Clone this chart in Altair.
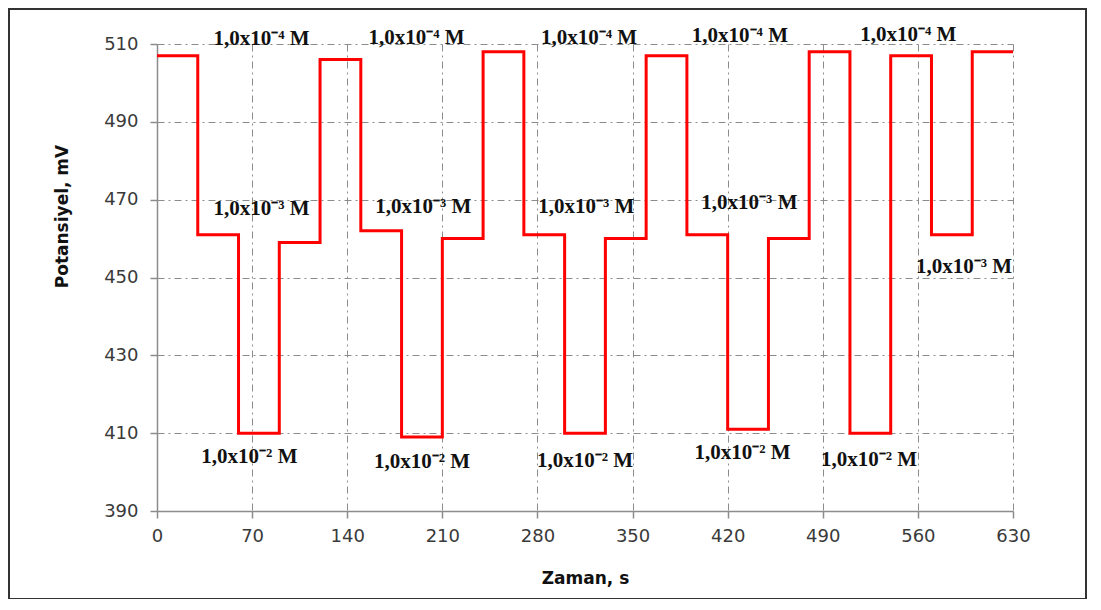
import altair as alt
import pandas as pd

# Step levels (mV), each held for 30 s
levels = [507, 461, 410, 459, 506, 462, 409, 460, 508, 461, 410,
          460, 507, 461, 411, 460, 508, 410, 507, 461, 508]
step_seconds = 30

x_ticks = [0, 70, 140, 210, 280, 350, 420, 490, 560, 630]
y_ticks = [390, 410, 430, 450, 470, 490, 510]

label_text = ["1,0x10⁻⁴ M"] * 5 + ["1,0x10⁻³ M"] * 5 + ["1,0x10⁻² M"] * 5
label_x = [77, 191, 318, 429, 553,
           77, 196, 316, 436, 594,
           68, 195, 315, 431, 524]
label_y = [511.3, 511.5, 511.5, 512.1, 512.3,
           467.6, 468.1, 468.1, 469.1, 452.7,
           403.8, 402.5, 402.8, 404.9, 403.1]

rows = []
k = 0
for i, lv in enumerate(levels):
    rows.append({"t": i * step_seconds, "v": lv, "o": k}); k += 1
    rows.append({"t": (i + 1) * step_seconds, "v": lv, "o": k}); k += 1
df = pd.DataFrame(rows)
lab = pd.DataFrame({"text": label_text, "x": label_x, "y": label_y})

xs = alt.Scale(domain=[0, 630], nice=False, zero=False)
ys = alt.Scale(domain=[390, 510], nice=False, zero=False)

line = alt.Chart(df).mark_line(color="#ff0000", strokeWidth=3, strokeJoin="miter").encode(
    x=alt.X("t:Q", scale=xs, axis=alt.Axis(
        values=x_ticks, title="Zaman, s", titleX=428, titleY=67, titleBaseline="middle",
        labelPadding=9, labelFlush=False)),
    y=alt.Y("v:Q", scale=ys, axis=alt.Axis(
        values=y_ticks, title="Potansiyel, mV", titleX=-95, titleY=172,
        titleBaseline="middle", labelPadding=12, labelFlush=False)),
    order="o:Q",
)

texts = alt.Chart(lab).mark_text(
    font="Liberation Serif", fontWeight="bold", fontSize=21, color="#111111",
    align="center", baseline="middle",
).encode(
    x=alt.X("x:Q", scale=xs),
    y=alt.Y("y:Q", scale=ys),
    text="text:N",
)

frame = alt.Chart(pd.DataFrame({"a": [0]})).mark_rect(
    fill=None, stroke="#333333", strokeWidth=2
).encode(
    x=alt.value(-148), x2=alt.value(929), y=alt.value(-35), y2=alt.value(555)
)

chart = alt.layer(line, texts, frame).properties(
    width=856, height=467,
    autosize=alt.AutoSizeParams(type="none"),
    padding={"left": 149, "top": 36, "right": 78, "bottom": 88},
).configure_view(stroke=None).configure_axis(
    grid=True, gridColor="#8c8c8c", gridDash=[7, 4, 2, 4], gridWidth=1,
    domainColor="#8c8c8c", domainWidth=1.5, tickColor="#8c8c8c", tickSize=7, tickWidth=1.5,
    labelFont="DejaVu Sans", labelFontSize=18, labelColor="#3a3a3a",
    titleFont="DejaVu Sans", titleFontSize=17, titleFontWeight="bold", titleColor="#111111",
)

chart.save("out.html", embed_options={"renderer": "svg", "actions": False})
